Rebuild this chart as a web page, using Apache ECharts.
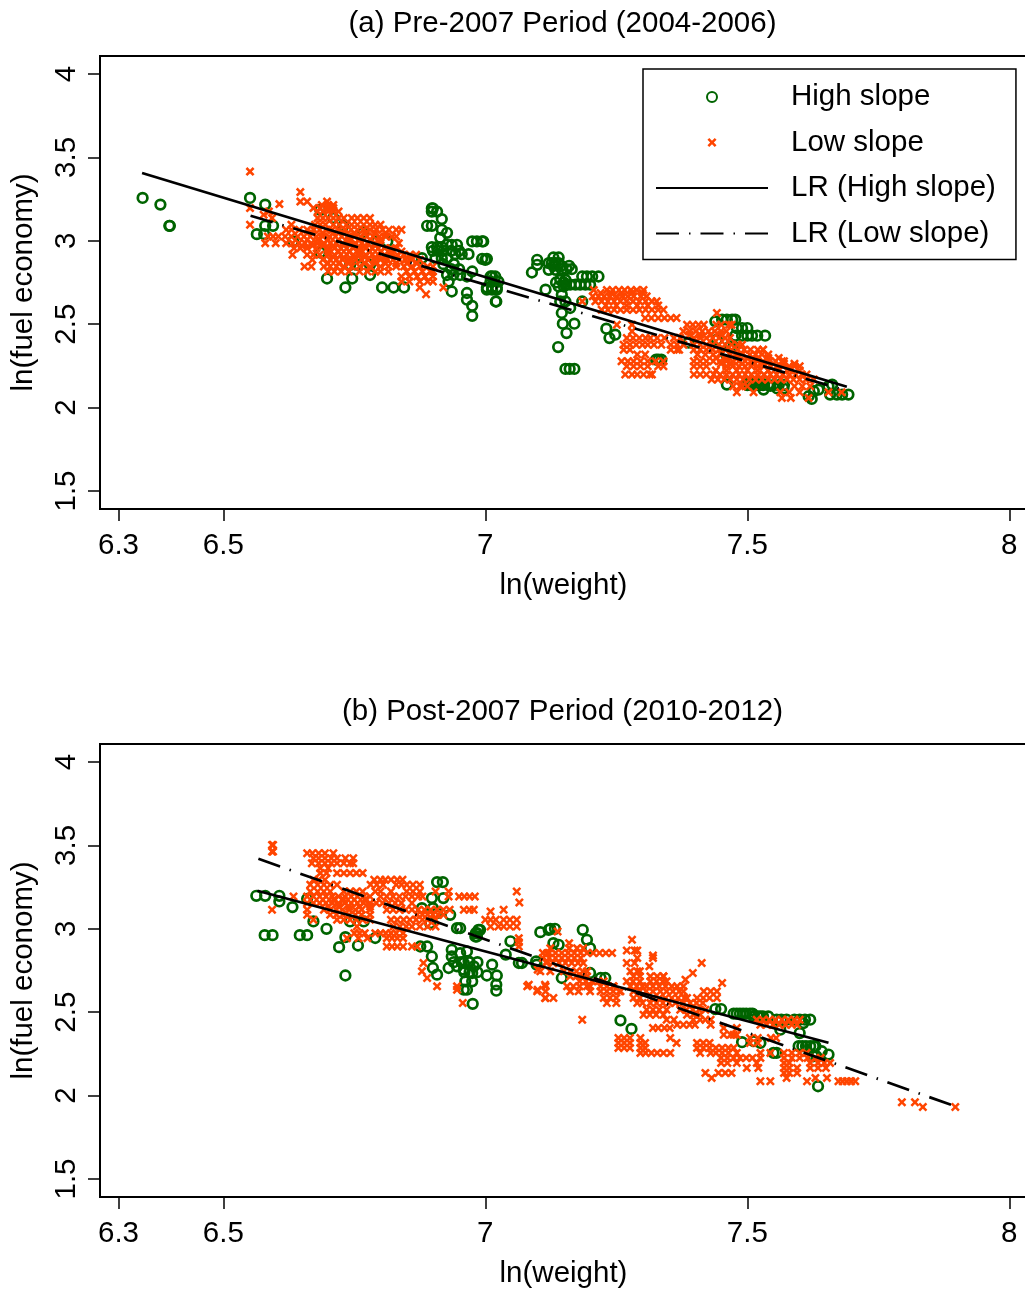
<!DOCTYPE html>
<html>
<head>
<meta charset="utf-8">
<title>ln(fuel economy) vs ln(weight)</title>
<style>
    html, body { margin: 0; padding: 0; background: #fff; }
    #chart { width: 1025px; height: 1292px; }
</style>
<script src="https://cdn.jsdelivr.net/npm/echarts@6/dist/echarts.min.js"></script>
</head>
<body>
<div id="chart"></div>
<script>
var titles = ['(a) Pre-2007 Period (2004-2006)', '(b) Post-2007 Period (2010-2012)'];
var seriesNames = ['High slope', 'Low slope', 'LR (High slope)', 'LR (Low slope)'];
var xTicks = [6.3, 6.5, 7, 7.5, 8];
var yTicks = [1.5, 2, 2.5, 3, 3.5, 4];

// 读图估计的点，每行 [y, [x...]]
var highA = [
    [3.257, [6.346, 6.551]], [3.217, [6.38, 6.58]], [3.09, [6.397, 6.398, 6.58, 6.595, 6.729, 6.889, 6.898]],
    [3.04, [6.564, 6.578]], [2.996, [6.633, 6.793, 6.813, 6.975, 6.984, 6.996, 6.994]],
    [3.185, [6.685]], [3.137, [6.71]], [3.05, [6.767]], [2.93, [6.685]], [2.856, [6.742, 6.756, 6.78]],
    [2.774, [6.698, 6.746]], [2.795, [6.78, 6.927, 6.939, 6.952]],
    [2.72, [6.733, 6.803, 6.825, 6.845, 7.003, 7.013, 7.022]],
    [3.195, [6.898, 6.9]], [3.175, [6.898, 6.908]], [3.13, [6.917]], [3.066, [6.917]], [3.048, [6.927]], [3.018, [6.914]],
    [2.962, [6.898, 6.908, 6.917]], [2.976, [6.927, 6.936, 6.946]], [2.94, [6.9, 6.91, 6.92, 6.935, 6.95]],
    [2.92, [6.943, 6.955, 6.968]], [2.896, [6.905, 6.917, 6.927, 6.879]], [2.892, [6.994, 7.003]],
    [2.886, [7.0, 7.099]], [2.86, [6.92, 6.94]], [2.83, [6.935, 6.95]],
    [2.816, [6.975]], [2.786, [6.965, 7.01, 7.013, 7.019, 7.185, 7.194, 7.204, 7.216]],
    [2.756, [6.93, 7.01, 7.025]], [2.696, [6.936]], [2.687, [6.965]], [2.647, [6.965]], [2.61, [6.975]], [2.55, [6.975]],
    [2.636, [7.02, 7.021, 7.143, 7.153, 7.185]], [2.707, [7.003, 7.013, 7.022, 7.115]],
    [2.856, [7.099]], [2.81, [7.089]], [2.866, [7.121, 7.127, 7.134, 7.14]], [2.9, [7.13, 7.14]], [2.85, [7.13, 7.145, 7.16]],
    [2.826, [7.121, 7.134]], [2.83, [7.146, 7.155, 7.165]], [2.766, [7.143, 7.153]], [2.75, [7.135, 7.15]],
    [2.737, [7.153, 7.162, 7.172, 7.181, 7.191, 7.2]], [2.726, [7.14, 7.15]], [2.677, [7.146]], [2.597, [7.162]],
    [2.567, [7.146]], [2.503, [7.148, 7.17]], [2.447, [7.155]], [2.363, [7.139]], [2.232, [7.153, 7.161, 7.17]],
    [2.473, [7.231]], [2.417, [7.237]], [2.437, [7.248]], [2.287, [7.326, 7.33, 7.336]], [2.389, [7.388]],
    [2.517, [7.439]], [2.527, [7.452, 7.461, 7.471, 7.477]], [2.477, [7.48, 7.49, 7.5]],
    [2.431, [7.477, 7.49, 7.5, 7.509, 7.519, 7.534]], [2.407, [7.442]], [2.367, [7.467, 7.474]], [2.327, [7.458]],
    [2.148, [7.5, 7.509, 7.519]], [2.14, [7.531]], [2.135, [7.5, 7.507, 7.515, 7.522, 7.53, 7.54, 7.55, 7.56, 7.57]],
    [2.13, [7.544]], [2.115, [7.557, 7.569]], [2.138, [7.461, 7.662]], [2.108, [7.531, 7.636]],
    [2.098, [7.627]], [2.052, [7.623]], [2.068, [7.617]], [2.128, [7.655]], [2.078, [7.658, 7.671, 7.681, 7.693]]
];
var lowA = [
    [3.415, [6.551]], [3.292, [6.647]], [3.235, [6.647, 6.66, 6.698]], [3.22, [6.607]], [3.215, [6.688, 6.7, 6.71]],
    [3.196, [6.551, 6.672, 6.685, 6.7, 6.71]], [3.176, [6.587, 6.68, 6.69, 6.7, 6.71, 6.72]], [3.156, [6.577]],
    [3.136, [6.593, 6.68, 6.69, 6.7, 6.71, 6.72, 6.73, 6.745, 6.756, 6.768, 6.78]],
    [3.096, [6.551, 6.63, 6.675, 6.685, 6.695, 6.71, 6.722, 6.735, 6.745, 6.756, 6.768, 6.78, 6.79, 6.8]],
    [3.066, [6.62, 6.63, 6.645, 6.66, 6.672, 6.684, 6.696, 6.708, 6.72, 6.732, 6.744, 6.756, 6.768, 6.78, 6.792, 6.804, 6.816, 6.83, 6.84]],
    [3.046, [6.67, 6.69, 6.71, 6.73, 6.75, 6.77, 6.79, 6.81]],
    [3.026, [6.585, 6.595, 6.605, 6.618, 6.63, 6.642, 6.654, 6.666, 6.678, 6.69, 6.702, 6.714, 6.726, 6.738, 6.75, 6.762, 6.774, 6.786, 6.798, 6.81, 6.822, 6.83]],
    [3.006, [6.66, 6.68, 6.7, 6.72, 6.74, 6.76, 6.78, 6.8]],
    [2.986, [6.58, 6.6, 6.62, 6.632, 6.644, 6.656, 6.668, 6.68, 6.692, 6.704, 6.716, 6.728, 6.74, 6.752, 6.764, 6.776, 6.79, 6.8, 6.835]],
    [2.971, [6.65, 6.67, 6.69, 6.71, 6.73, 6.75, 6.77, 6.79]],
    [2.956, [6.635, 6.647, 6.66, 6.678, 6.7, 6.712, 6.724, 6.736, 6.748, 6.76, 6.772, 6.784, 6.796, 6.808, 6.82, 6.83]],
    [2.936, [6.7, 6.72, 6.74, 6.76, 6.78, 6.8, 6.82, 6.84]],
    [2.916, [6.632, 6.66, 6.672, 6.684, 6.7, 6.712, 6.724, 6.736, 6.748, 6.76, 6.772, 6.784, 6.796, 6.808, 6.82, 6.832, 6.844, 6.856, 6.868]],
    [2.901, [6.71, 6.73, 6.75, 6.77, 6.79, 6.81, 6.83, 6.85]],
    [2.886, [6.67, 6.69, 6.704, 6.716, 6.728, 6.74, 6.752, 6.764, 6.776, 6.788, 6.8, 6.812, 6.824, 6.836, 6.848, 6.86, 6.875]],
    [2.866, [6.7, 6.72, 6.74, 6.77, 6.79, 6.81, 6.83, 6.85, 6.87]],
    [2.846, [6.655, 6.668, 6.692, 6.704, 6.716, 6.73, 6.745, 6.76, 6.78, 6.8, 6.815, 6.83, 6.845, 6.86, 6.875, 6.89, 6.9]],
    [2.816, [6.7, 6.712, 6.725, 6.74, 6.76, 6.775, 6.79, 6.8, 6.815, 6.85, 6.865, 6.88, 6.895, 6.9]],
    [2.786, [6.84, 6.855, 6.87, 6.885, 6.9]], [2.756, [6.84, 6.855, 6.875, 6.89, 6.9]], [2.72, [6.875, 6.92]], [2.68, [6.887]],
    [2.705, [7.207, 7.232, 7.243, 7.255, 7.266, 7.278, 7.289, 7.302]],
    [2.687, [7.22, 7.24, 7.26, 7.28, 7.3]],
    [2.667, [7.205, 7.216, 7.227, 7.238, 7.25, 7.261, 7.272, 7.283, 7.297, 7.308]],
    [2.637, [7.185, 7.21, 7.222, 7.234, 7.246, 7.258, 7.27, 7.282, 7.294, 7.306, 7.318, 7.327]],
    [2.612, [7.23, 7.25, 7.27, 7.29, 7.31, 7.33]],
    [2.587, [7.222, 7.234, 7.246, 7.258, 7.27, 7.282, 7.294, 7.306, 7.318, 7.33, 7.34]],
    [2.567, [7.442]], [2.537, [7.305, 7.317, 7.33, 7.342, 7.354, 7.365]],
    [2.497, [7.251, 7.28, 7.385, 7.396, 7.407, 7.417, 7.441, 7.45, 7.465, 7.47]],
    [2.457, [7.28, 7.378, 7.39, 7.402, 7.414, 7.426, 7.438, 7.45, 7.46]],
    [2.437, [7.39, 7.41, 7.43, 7.45]],
    [2.417, [7.27, 7.282, 7.294, 7.306, 7.315, 7.328, 7.342, 7.36, 7.372, 7.398, 7.41, 7.422, 7.434, 7.446, 7.458, 7.467]],
    [2.377, [7.264, 7.276, 7.288, 7.3, 7.31, 7.322, 7.336, 7.354, 7.366, 7.378, 7.398, 7.41, 7.422, 7.434, 7.446, 7.458, 7.47, 7.482, 7.49]],
    [2.347, [7.264, 7.276, 7.354, 7.366, 7.37, 7.398, 7.41, 7.422, 7.434, 7.446, 7.458, 7.47, 7.482, 7.494, 7.506, 7.52, 7.53, 7.53]],
    [2.318, [7.29, 7.305, 7.405, 7.42, 7.435, 7.45, 7.468, 7.48, 7.49, 7.505, 7.516, 7.528, 7.54]],
    [2.298, [7.44, 7.46, 7.48, 7.5, 7.52, 7.54, 7.56]],
    [2.278, [7.26, 7.272, 7.283, 7.296, 7.31, 7.325, 7.34, 7.398, 7.41, 7.422, 7.435, 7.448, 7.46, 7.472, 7.484, 7.496, 7.508, 7.52, 7.53, 7.542, 7.554, 7.566, 7.57]],
    [2.263, [7.45, 7.47, 7.49, 7.51, 7.53, 7.55, 7.57, 7.59]],
    [2.248, [7.27, 7.283, 7.296, 7.31, 7.33, 7.34, 7.398, 7.41, 7.422, 7.46, 7.472, 7.484, 7.496, 7.508, 7.52, 7.532, 7.544, 7.556, 7.568, 7.58, 7.59, 7.6]],
    [2.223, [7.44, 7.46, 7.48, 7.5, 7.52, 7.54, 7.56, 7.58, 7.6]],
    [2.198, [7.267, 7.28, 7.29, 7.302, 7.314, 7.318, 7.398, 7.41, 7.422, 7.436, 7.448, 7.46, 7.472, 7.484, 7.496, 7.508, 7.52, 7.532, 7.544, 7.556, 7.568, 7.58, 7.592, 7.604, 7.613]],
    [2.168, [7.432, 7.444, 7.456, 7.468, 7.48, 7.492, 7.504, 7.516, 7.528, 7.54, 7.552, 7.564, 7.576, 7.588, 7.6, 7.612, 7.627]],
    [2.128, [7.473, 7.486, 7.49, 7.5, 7.59, 7.605, 7.62]],
    [2.092, [7.48, 7.512, 7.563, 7.58, 7.6, 7.655, 7.68]], [2.058, [7.566, 7.583, 7.617]]
];
var lrHighA = [[6.345, 3.407], [7.69, 2.125]];
var lrLowA = [[6.552, 3.15], [7.68, 2.11]];

var highB = [
    [3.198, [6.563, 6.58, 6.607]], [3.164, [6.607]], [2.962, [6.579, 6.594, 6.646, 6.66]], [3.13, [6.632]], [3.18, [6.66]],
    [3.044, [6.672, 6.742, 6.768]], [3.0, [6.697]], [2.89, [6.721]], [2.95, [6.733]], [2.9, [6.757]], [2.72, [6.733]], [2.945, [6.79]],
    [2.894, [6.876, 6.889]], [2.834, [6.898, 6.936]], [2.765, [6.9, 6.93]], [2.725, [6.908]], [3.28, [6.908, 6.919]],
    [3.184, [6.898, 6.92]], [3.124, [6.879, 6.9]], [3.094, [6.908]], [3.034, [6.895]], [3.084, [6.933]], [3.004, [6.946, 6.952]],
    [2.874, [6.936]], [2.854, [6.952]], [2.864, [6.965]], [2.8, [6.94, 6.955, 6.97, 6.985]], [2.775, [6.946, 6.978]], [2.755, [6.959]], [2.74, [6.96, 6.97, 6.985]],
    [2.805, [6.968]], [2.795, [6.959, 7.064, 7.07]],
    [2.735, [6.975]], [2.685, [6.962, 6.975]], [2.635, [6.959, 6.965]], [2.55, [6.976]], [2.785, [7.013, 7.098]], [2.72, [7.003, 7.022]],
    [2.665, [7.021]], [2.629, [7.021]], [2.974, [6.984, 6.982]], [2.994, [6.987, 6.99, 7.121, 7.186]], [2.954, [6.981, 6.984]],
    [2.845, [7.039]], [2.98, [7.105]], [2.925, [7.048]], [3.0, [7.124, 7.133]], [2.934, [7.194]], [2.884, [7.2]], [2.914, [7.13]], [2.904, [7.14]],
    [2.805, [7.097]], [2.705, [7.146, 7.22, 7.229]], [2.735, [7.2]], [2.451, [7.258]], [2.4, [7.279]], [2.519, [7.439, 7.45]],
    [2.491, [7.474, 7.48, 7.486, 7.492, 7.498, 7.505, 7.51]], [2.475, [7.512, 7.52, 7.525, 7.53, 7.54]],
    [2.455, [7.556, 7.565, 7.575, 7.59, 7.6, 7.61, 7.62]], [2.435, [7.607]], [2.395, [7.563]], [2.375, [7.6]],
    [2.32, [7.49]], [2.326, [7.512]], [2.316, [7.525]], [2.256, [7.55, 7.556]], [2.296, [7.598, 7.605, 7.612, 7.62, 7.627, 7.63]],
    [2.266, [7.642]], [2.246, [7.655]], [2.236, [7.626, 7.632]], [2.056, [7.635]]
];
var lowB = [
    [3.503, [6.593, 6.595]], [3.463, [6.593, 6.595]],
    [3.453, [6.66, 6.67, 6.682, 6.694, 6.71]], [3.423, [6.672, 6.682, 6.694, 6.706, 6.717, 6.733, 6.748]],
    [3.393, [6.669, 6.682, 6.694, 6.706, 6.717, 6.73, 6.742, 6.748]], [3.363, [6.685, 6.7]],
    [3.334, [6.685, 6.697, 6.717, 6.73, 6.742, 6.754, 6.766]],
    [3.294, [6.672, 6.682, 6.694, 6.788, 6.8, 6.809, 6.82, 6.832, 6.842]],
    [3.264, [6.666, 6.68, 6.692, 6.704, 6.717, 6.781, 6.793, 6.805, 6.83, 6.84, 6.85, 6.862, 6.875]],
    [3.224, [6.666, 6.68, 6.692, 6.704, 6.73, 6.742, 6.754, 6.766, 6.79, 6.8, 6.82, 6.85, 6.862, 6.875, 6.905, 6.93, 7.06]],
    [3.194, [6.634, 6.66, 6.672, 6.684, 6.696, 6.708, 6.72, 6.732, 6.744, 6.756, 6.768, 6.78, 6.8, 6.812, 6.824, 6.836, 6.848, 6.86, 6.872, 6.88, 6.93, 6.95, 6.96, 6.97, 6.98]],
    [3.174, [6.69, 6.71, 6.73, 6.75, 6.77]],
    [3.158, [7.065]],
    [3.154, [6.66, 6.672, 6.684, 6.696, 6.708, 6.72, 6.732, 6.744, 6.756, 6.768, 6.78, 6.792, 6.804, 6.816, 6.828, 6.84, 6.86]],
    [3.134, [6.7, 6.72, 6.74, 6.76, 6.78]],
    [3.114, [6.593, 6.66, 6.692, 6.704, 6.716, 6.728, 6.74, 6.752, 6.764, 6.78, 6.812, 6.824, 6.836, 6.848, 6.86, 6.872, 6.884, 6.896, 6.908, 6.92, 6.932, 6.959, 6.97, 6.978, 7.035]],
    [3.104, [7.01]],
    [3.084, [6.66, 6.704, 6.716, 6.728, 6.74, 6.752, 6.764, 6.78, 6.87, 6.88, 6.89, 6.9, 6.91, 6.92]],
    [3.054, [6.672, 6.717, 6.73, 6.742, 6.754, 6.766, 6.78, 6.82, 6.832, 6.844, 6.856, 6.868, 6.88, 6.89, 6.905, 7.0, 7.01, 7.02, 7.035, 7.047, 7.06]],
    [3.014, [6.755, 6.825, 6.837, 6.849, 6.86, 6.875, 6.89, 6.905, 7.01, 7.025, 7.035, 7.047, 7.06]],
    [2.974, [6.75, 6.76, 6.77, 6.79, 6.8, 6.81, 6.82, 6.83, 6.843]],
    [2.944, [6.736, 6.758, 6.775, 6.812, 6.822, 6.832, 6.843, 7.064]], [2.92, [7.064]],
    [2.894, [6.812, 6.822, 6.832, 6.843, 6.86, 6.87, 7.064]],
    [2.795, [6.882]], [2.745, [6.879]], [2.705, [6.889]], [2.655, [6.908, 6.946]], [2.555, [6.957]], [2.635, [6.946]],
    [2.665, [7.083]], [2.635, [7.1]], [2.665, [7.114]], [2.585, [7.114]], [2.854, [7.118]], [2.805, [7.118]], [2.755, [7.1]],
    [2.984, [7.138]], [2.934, [7.28]], [2.87, [7.27, 7.285, 7.29]], [2.84, [7.32]], [2.825, [7.11, 7.122, 7.134, 7.146, 7.158, 7.17, 7.182, 7.29, 7.32]],
    [2.795, [7.117, 7.129, 7.141, 7.153, 7.165, 7.177, 7.187, 7.27, 7.285, 7.413]], [2.775, [7.313]], [2.735, [7.396]], [2.695, [7.382]],
    [2.675, [7.452]], [2.855, [7.11, 7.122, 7.134, 7.146, 7.158, 7.17, 7.182, 7.194, 7.206, 7.218, 7.23, 7.242]],
    [2.884, [7.124, 7.16, 7.175, 7.187]], [2.914, [7.16]],
    [2.745, [7.105, 7.124, 7.15, 7.162, 7.174, 7.186, 7.194, 7.277, 7.29, 7.295]],
    [2.715, [7.162, 7.174, 7.186, 7.194, 7.283, 7.295, 7.315, 7.328, 7.34, 7.34]],
    [2.685, [7.18, 7.192, 7.204, 7.216, 7.226, 7.27, 7.282, 7.295, 7.315, 7.327, 7.339, 7.346]],
    [2.655, [7.08, 7.115, 7.156, 7.168, 7.18, 7.194, 7.2, 7.22, 7.232, 7.244, 7.245, 7.277, 7.289, 7.3, 7.308, 7.32, 7.332, 7.344, 7.356, 7.366, 7.378]],
    [2.625, [7.099, 7.115, 7.162, 7.178, 7.2, 7.22, 7.232, 7.244, 7.256, 7.258, 7.283, 7.295, 7.307, 7.32, 7.334, 7.346, 7.358, 7.37, 7.378, 7.417, 7.43, 7.442]],
    [2.585, [7.115, 7.13, 7.226, 7.238, 7.25, 7.283, 7.295, 7.32, 7.332, 7.344, 7.356, 7.368, 7.38, 7.385, 7.404, 7.416, 7.428, 7.442]],
    [2.555, [7.232, 7.25, 7.29, 7.3, 7.315, 7.327, 7.339, 7.351, 7.363, 7.378, 7.391, 7.403, 7.415]],
    [2.515, [7.308, 7.32, 7.332, 7.346, 7.372, 7.384, 7.396, 7.408, 7.42]],
    [2.485, [7.302, 7.314, 7.326, 7.34, 7.385, 7.397, 7.41]],
    [2.455, [7.185, 7.346, 7.36, 7.397, 7.41, 7.42, 7.43, 7.518, 7.53, 7.542, 7.554, 7.566, 7.578, 7.59, 7.6]],
    [2.425, [7.366, 7.378, 7.39, 7.4, 7.43, 7.525, 7.537, 7.549, 7.561, 7.573, 7.585, 7.595]],
    [2.405, [7.32, 7.33, 7.342, 7.352, 7.455, 7.48]], [2.365, [7.455, 7.468, 7.474, 7.48]],
    [2.345, [7.254, 7.265, 7.276, 7.296, 7.353, 7.505, 7.52, 7.545, 7.555]],
    [2.316, [7.254, 7.265, 7.276, 7.296, 7.305, 7.365, 7.404, 7.416, 7.428, 7.505, 7.52]],
    [2.286, [7.254, 7.265, 7.276, 7.296, 7.305, 7.404, 7.416, 7.428, 7.44, 7.452, 7.464, 7.474]],
    [2.256, [7.296, 7.306, 7.317, 7.328, 7.34, 7.353, 7.41, 7.43, 7.44, 7.452, 7.464, 7.48, 7.525, 7.544, 7.57, 7.585, 7.6, 7.613]],
    [2.226, [7.45, 7.462, 7.474, 7.486, 7.498, 7.51, 7.525, 7.57, 7.585, 7.6, 7.615, 7.63, 7.64]],
    [2.196, [7.45, 7.462, 7.48, 7.518, 7.57, 7.58, 7.62, 7.635, 7.647, 7.658]],
    [2.166, [7.499, 7.521, 7.57, 7.58, 7.595, 7.62, 7.635, 7.65]],
    [2.136, [7.42, 7.445, 7.458, 7.47, 7.57, 7.58, 7.595]], [2.106, [7.432, 7.575, 7.63, 7.652]],
    [2.086, [7.525, 7.544, 7.614, 7.674, 7.682, 7.69, 7.698, 7.706]],
    [1.96, [7.795, 7.82]], [1.932, [7.835, 7.897]]
];
var lrHighB = [[6.565, 3.228], [7.655, 2.317]];
var lrLowB = [[6.567, 3.42], [7.893, 1.94]];

var xMark = 'path://M2 0L5 3L8 0L10 2L7 5L10 8L8 10L5 7L2 10L0 8L3 5L0 2Z';
var xMarkLegend = 'path://M-0.5 -0.5h0.01v0.01zM10.5 10.5h0.01v0.01zM2 0L5 3L8 0L10 2L7 5L10 8L8 10L5 7L2 10L0 8L3 5L0 2Z';
var fontName = 'Liberation Sans';
var fontSize = 29.5;

function flatten(rows) {
    var pts = [];
    for (var i = 0; i < rows.length; i++) {
        for (var j = 0; j < rows[i][1].length; j++) {
            pts.push([rows[i][1][j], rows[i][0]]);
        }
    }
    return pts;
}

function panelSeries(idx, high, low, lrHigh, lrLow) {
    return [
        {
            name: seriesNames[0], type: 'scatter', xAxisIndex: idx, yAxisIndex: idx, silent: true,
            symbol: 'circle', symbolSize: 9.6,
            itemStyle: { color: 'rgba(255,255,255,0)', borderColor: '#006400', borderWidth: 2.7, opacity: 1 },
            data: flatten(high)
        },
        {
            name: seriesNames[1], type: 'scatter', xAxisIndex: idx, yAxisIndex: idx, silent: true,
            symbol: xMark, symbolSize: 9,
            itemStyle: { color: '#ff4500', opacity: 1 },
            data: flatten(low)
        },
        {
            name: seriesNames[2], type: 'line', xAxisIndex: idx, yAxisIndex: idx, silent: true,
            symbol: 'none', lineStyle: { color: '#000', width: 2.7 },
            data: lrHigh
        },
        {
            name: seriesNames[3], type: 'line', xAxisIndex: idx, yAxisIndex: idx, silent: true,
            symbol: 'none', lineStyle: { color: '#000', width: 2.7, type: [23, 10, 1.5, 10] },
            data: lrLow
        }
    ];
}

function xAxisFor(idx) {
    return {
        type: 'value', gridIndex: idx, min: 6.2647, max: 8.0338, splitLine: { show: false },
        name: 'ln(weight)', nameLocation: 'middle', nameGap: 62,
        nameTextStyle: { fontFamily: fontName, fontSize: fontSize, color: '#000' },
        axisLine: { show: false },
        axisTick: { length: 12, customValues: xTicks, lineStyle: { color: '#000', width: 1.5 } },
        axisLabel: { customValues: xTicks, margin: 22, fontFamily: fontName, fontSize: fontSize, color: '#000', hideOverlap: false }
    };
}

function yAxisFor(idx) {
    return {
        type: 'value', gridIndex: idx, min: 1.392, max: 4.108, splitLine: { show: false },
        name: 'ln(fuel economy)', nameLocation: 'middle', nameGap: 61,
        nameTextStyle: { fontFamily: fontName, fontSize: fontSize, color: '#000' },
        axisLine: { show: false },
        axisTick: { length: 12, customValues: yTicks, lineStyle: { color: '#000', width: 1.5 } },
        axisLabel: { customValues: yTicks, rotate: 90, margin: 18, fontFamily: fontName, fontSize: fontSize, color: '#000', hideOverlap: false }
    };
}

function legendItem(name, icon) {
    // 折线图例不要中间的圆点
    var item = { name: name };
    if (icon) {
        item.icon = icon;
    } else if (name.indexOf('LR') === 0) {
        item.itemStyle = { color: 'rgba(0,0,0,0)', borderWidth: 0 };
    }
    return item;
}

var myChart = echarts.init(document.getElementById('chart'), null, { renderer: 'canvas' });
myChart.setOption({
    animation: false,
    backgroundColor: '#fff',
    title: [
        { text: titles[0], left: 557.5, top: 4, textAlign: 'center', textStyle: { fontFamily: fontName, fontSize: fontSize, fontWeight: 'normal', color: '#000' } },
        { text: titles[1], left: 557.5, top: 692, textAlign: 'center', textStyle: { fontFamily: fontName, fontSize: fontSize, fontWeight: 'normal', color: '#000' } }
    ],
    grid: [
        { left: 100, top: 56, width: 927, height: 453, show: true, borderColor: '#000', borderWidth: 2, outerBoundsMode: 'none' },
        { left: 100, top: 744, width: 927, height: 453, show: true, borderColor: '#000', borderWidth: 2, outerBoundsMode: 'none' }
    ],
    xAxis: [xAxisFor(0), xAxisFor(1)],
    yAxis: [yAxisFor(0), yAxisFor(1)],
    legend: {
        left: 643, top: 69, orient: 'vertical', align: 'left',
        padding: [13, 20, 11, 12], itemGap: 15.5, itemWidth: 112, itemHeight: 10,
        backgroundColor: '#fff', borderColor: '#000', borderWidth: 1.5,
        textStyle: { fontFamily: fontName, fontSize: fontSize, color: '#000', padding: [0, 0, 3, 18] },
        selectedMode: false,
        data: [
            legendItem(seriesNames[0]),
            legendItem(seriesNames[1], xMarkLegend),
            legendItem(seriesNames[2]),
            legendItem(seriesNames[3])
        ]
    },
    series: panelSeries(0, highA, lowA, lrHighA, lrLowA).concat(panelSeries(1, highB, lowB, lrHighB, lrLowB))
});
</script>
</body>
</html>
